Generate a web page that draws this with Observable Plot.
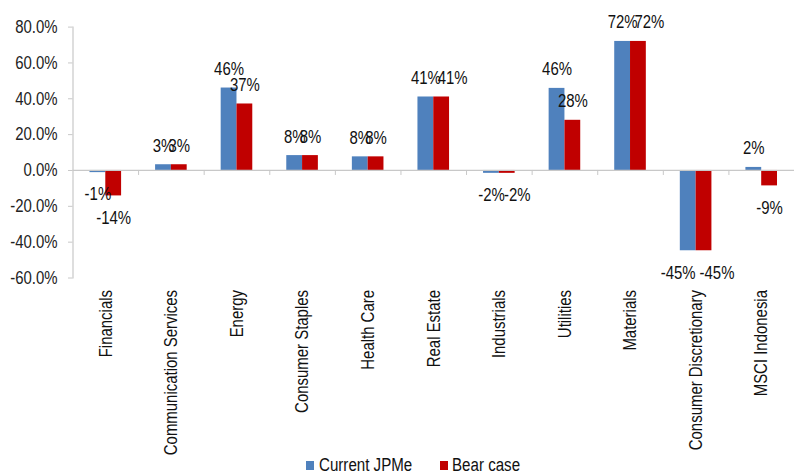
<!DOCTYPE html>
<html>
<head>
<meta charset="utf-8">
<script src="https://cdn.jsdelivr.net/npm/d3@7"></script>
<script src="https://cdn.jsdelivr.net/npm/@observablehq/plot@0.6"></script>
<style>
  html, body { margin: 0; padding: 0; background: #fff; overflow: hidden; }
  #chart { width: 794px; }
  .legend { position: relative; height: 18px; font-family: "Liberation Sans", Arial, sans-serif; font-size: 18px; color: #111; }
  .legend .sw { position: absolute; top: 5px; width: 8px; height: 9px; }
  .legend .lab { position: absolute; top: 0; line-height: 18px; white-space: nowrap; transform: scaleX(0.84); transform-origin: left center; }
</style>
</head>
<body>
<div id="chart"></div>
<script>
const categories = ["Financials", "Communication Services", "Energy", "Consumer Staples", "Health Care", "Real Estate", "Industrials", "Utilities", "Materials", "Consumer Discretionary", "MSCI Indonesia"];
const currentJPMe = [-1.2, 3.2, 46.0, 8.3, 7.6, 41.0, -1.6, 45.8, 72.0, -44.8, 1.7];
const bearCase = [-14.2, 3.2, 37.1, 8.3, 7.6, 41.0, -1.6, 28.0, 72.0, -44.8, -8.6];
const seriesNames = ["Current JPMe", "Bear case"];
const seriesColors = ["#4F81BD", "#C00000"];
const yTicks = [-60, -40, -20, 0, 20, 40, 60, 80];

// styling: manual horizontal nudges of some data labels (px), [current, bear]
const labelNudge = {"Real Estate": [0, 11], "Industrials": [0, 10], "Materials": [0, 11], "Consumer Discretionary": [-10, 13]};

const width = 794, height = 456, marginLeft = 72.5, marginRight = 0, marginTop = 26.6, marginBottom = 178.5;
const step = (width - marginLeft - marginRight) / categories.length;
const barW = 15.8;
const narrow = 0.83;

const rows = categories.flatMap((c, i) => [
  {category: c, series: seriesNames[0], value: currentJPMe[i], k: 0},
  {category: c, series: seriesNames[1], value: bearCase[i], k: 1}
]);
const fmt = v => `${Math.round(v)}%`;
const font = "'Liberation Sans', Arial, sans-serif";

const marks = [];
seriesNames.forEach((s, k) => {
  const data = rows.filter(d => d.k === k);
  marks.push(Plot.barY(data, {
    x: "category", y: "value", fill: seriesColors[k],
    insetLeft: k === 0 ? step / 2 - barW : step / 2,
    insetRight: k === 0 ? step / 2 : step / 2 - barW
  }));
});
marks.push(Plot.ruleY([0], {stroke: "#c8c8c8", strokeWidth: 1.2}));
marks.push(Plot.ruleX(categories.slice(1), {x: d => d, y1: 0, y2: 0, insetBottom: -5, dx: -step / 2, stroke: "#c8c8c8"}));
marks.push(Plot.frame({anchor: "left", stroke: "#c8c8c8", strokeWidth: 1.2}));

const nudgeOf = d => (labelNudge[d.category] || [0, 0])[d.k];
seriesNames.forEach((s, k) => {
  const data = rows.filter(d => d.k === k);
  const baseDx = k === 0 ? -barW / 2 : barW / 2;
  const groups = d3.group(data, nudgeOf);
  for (const [nudge, grp] of groups) {
    marks.push(Plot.text(grp.filter(d => d.value >= 0), {
      x: "category", y: "value", text: d => fmt(d.value), dx: baseDx + nudge, dy: -13,
      lineAnchor: "bottom", fill: "#111", fontSize: 18
    }));
    marks.push(Plot.text(grp.filter(d => d.value < 0), {
      x: "category", y: "value", text: d => fmt(d.value), dx: baseDx + nudge, dy: 15,
      lineAnchor: "top", fill: "#111", fontSize: 18
    }));
  }
});
marks.push(Plot.axisY({ticks: yTicks, tickSize: 4.5, tickPadding: 11, tickFormat: d => d.toFixed(1) + "%", stroke: "#c8c8c8", fill: "#222", fontSize: 18}));
marks.push(Plot.axisX({anchor: "bottom", tickSize: 0, tickPadding: 12, tickRotate: -90, fill: "#111", fontSize: 18}));

const chart = Plot.plot({
  width, height, marginLeft, marginRight, marginTop, marginBottom,
  style: {fontFamily: font, fontSize: "18px", background: "#fff", overflow: "visible"},
  x: {domain: categories, padding: 0, round: false, label: null},
  y: {domain: [-60, 80], label: null},
  marks
});
document.getElementById("chart").appendChild(chart);

// condense glyphs along the text direction (narrow typeface look)
chart.querySelectorAll("text").forEach(t => {
  const targets = t.querySelectorAll("tspan").length ? t.querySelectorAll("tspan") : [t];
  targets.forEach(el => {
    const len = el.getComputedTextLength();
    if (len > 0) {
      el.setAttribute("textLength", (len * narrow).toFixed(2));
      el.setAttribute("lengthAdjust", "spacingAndGlyphs");
    }
  });
});

const legend = document.createElement("div");
legend.className = "legend";
const swLefts = [306, 440];
const labLefts = [319, 452];
seriesNames.forEach((s, k) => {
  const sw = document.createElement("span");
  sw.className = "sw";
  sw.style.left = swLefts[k] + "px";
  sw.style.background = seriesColors[k];
  const lab = document.createElement("span");
  lab.className = "lab";
  lab.style.left = labLefts[k] + "px";
  lab.textContent = s;
  legend.appendChild(sw);
  legend.appendChild(lab);
});
document.getElementById("chart").appendChild(legend);
</script>
</body>
</html>
